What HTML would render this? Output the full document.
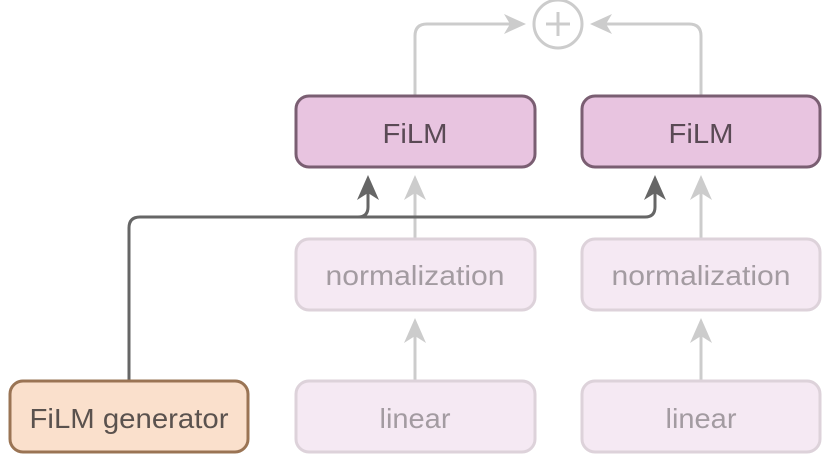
<!DOCTYPE html>
<html><head><style>
body{margin:0;width:834px;height:463px;background:#fff;overflow:hidden}
</style></head><body>
<svg width="834" height="463" xmlns="http://www.w3.org/2000/svg" font-family="Liberation Sans, sans-serif">
<g fill="none" stroke="#cccccc" stroke-width="3">
<path d="M415 96 V36 Q415 24 427 24 H510"/>
<path d="M701 96 V36 Q701 24 689 24 H606"/>
<circle cx="558" cy="24" r="24"/>
<path d="M558 12 V36 M546 24 H570"/>
<path d="M415 238 V190"/><path d="M701 238 V190"/>
<path d="M415 381 V332"/><path d="M701 381 V332"/>
</g>
<g fill="#cccccc">
<path d="M526 24 L504 14 L510 24 L504 34 Z"/>
<path d="M590 24 L612 14 L606 24 L612 34 Z"/>
<path d="M415 175 L404 200 L415 193 L426 200 Z"/>
<path d="M701 175 L690 200 L701 193 L712 200 Z"/>
<path d="M415 318 L404 343 L415 336 L426 343 Z"/>
<path d="M701 318 L690 343 L701 336 L712 343 Z"/>
</g>
<g fill="none" stroke="#666" stroke-width="3">
<path d="M129 381 V228 Q129 217 140 217 H358 Q368 217 368 207 V188"/>
<path d="M358 217 H645 Q655 217 655 207 V188"/>
</g>
<g fill="#666">
<path d="M368 175 L357 200 L368 193 L379 200 Z"/>
<path d="M655 175 L644 200 L655 193 L666 200 Z"/>
</g>
<g stroke-width="3">
<rect x="296" y="96" width="239" height="71" rx="13" fill="#e8c4e0" stroke="#7a5e72"/>
<rect x="582" y="96" width="238" height="71" rx="13" fill="#e8c4e0" stroke="#7a5e72"/>
<rect x="296" y="239" width="239" height="71" rx="13" fill="#f5e9f3" stroke="#ddd2da"/>
<rect x="582" y="239" width="238" height="71" rx="13" fill="#f5e9f3" stroke="#ddd2da"/>
<rect x="296" y="381" width="239" height="71" rx="13" fill="#f5e9f3" stroke="#ddd2da"/>
<rect x="582" y="381" width="238" height="71" rx="13" fill="#f5e9f3" stroke="#ddd2da"/>
<rect x="10" y="381" width="238" height="71" rx="13" fill="#fae0cc" stroke="#9a7454"/>
</g>
<g font-size="28" text-anchor="middle" lengthAdjust="spacingAndGlyphs">
<text x="415" y="143" fill="#5a4a55" textLength="65" lengthAdjust="spacingAndGlyphs">FiLM</text>
<text x="701" y="143" fill="#5a4a55" textLength="65" lengthAdjust="spacingAndGlyphs">FiLM</text>
<text x="415" y="285" fill="#a39ba1" textLength="179" lengthAdjust="spacingAndGlyphs">normalization</text>
<text x="701" y="285" fill="#a39ba1" textLength="179" lengthAdjust="spacingAndGlyphs">normalization</text>
<text x="415" y="428" fill="#a39ba1" textLength="71" lengthAdjust="spacingAndGlyphs">linear</text>
<text x="701" y="428" fill="#a39ba1" textLength="71" lengthAdjust="spacingAndGlyphs">linear</text>
<text x="129" y="428" fill="#5a524e" textLength="199" lengthAdjust="spacingAndGlyphs">FiLM generator</text>
</g>
</svg>
</body></html>
